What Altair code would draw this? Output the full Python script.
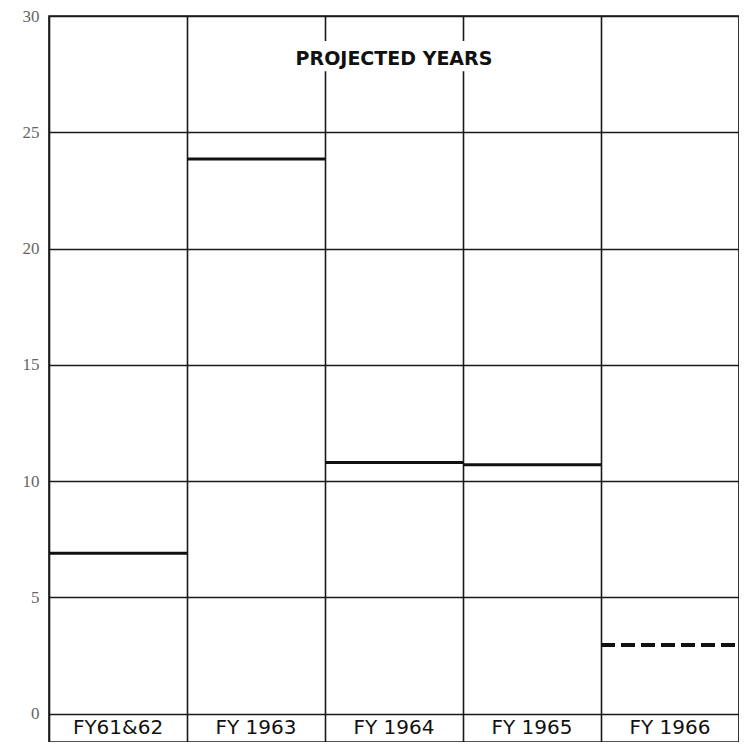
import altair as alt
import pandas as pd

# ---- data ----
categories = ["FY61&62", "FY 1963", "FY 1964", "FY 1965", "FY 1966"]
values = [6.9, 23.85, 10.8, 10.7, 2.95]
status = ["actual", "actual", "actual", "actual", "projected"]
y_ticks = [0, 5, 10, 15, 20, 25, 30]
x_dividers = [0, 1, 2, 3, 4, 5]

title_text = "PROJECTED YEARS"
title_x = 2.5
title_y = 28.17
gap_x = [1.77, 3.25]
gap_y = [27.62, 28.92]
label_y = -0.6
y_min = -1.22

df = pd.DataFrame({
    "idx": list(range(len(categories))),
    "label": categories,
    "value": values,
    "status": status,
})

x_scale = alt.Scale(domain=[0, 5], nice=False, zero=False)
y_scale = alt.Scale(domain=[y_min, 30], nice=False, zero=False)

x_axis = alt.Axis(values=x_dividers, grid=True, gridColor="#1a1a1a", gridWidth=1.6,
                  gridOpacity=1, labels=False, ticks=False, domain=False, title=None)
y_axis = alt.Axis(values=y_ticks, grid=True, gridColor="#1a1a1a", gridWidth=1.6,
                  gridOpacity=1, ticks=False, domain=False, title=None,
                  labelFont="Liberation Serif", labelFontSize=17, labelColor="#666666",
                  labelPadding=10)

base = alt.Chart(df).transform_calculate(
    x0="datum.idx", x1="datum.idx + 1", xc="datum.idx + 0.5"
)

solid = base.transform_filter(alt.datum.status == "actual").mark_rule(
    color="#111111", strokeWidth=3
).encode(
    x=alt.X("x0:Q", scale=x_scale, axis=x_axis),
    x2="x1:Q",
    y=alt.Y("value:Q", scale=y_scale, axis=y_axis),
)

dashed = base.transform_filter(alt.datum.status == "projected").mark_rule(
    color="#111111", strokeWidth=4, strokeDash=[14, 6]
).encode(
    x=alt.X("x0:Q", scale=x_scale),
    x2="x1:Q",
    y=alt.Y("value:Q", scale=y_scale),
)

labels = base.mark_text(
    font="DejaVu Sans", fontSize=20, color="#111111", baseline="middle", align="center"
).encode(
    x=alt.X("xc:Q", scale=x_scale),
    y=alt.datum(label_y),
    text="label:N",
)

gap = alt.Chart(pd.DataFrame({"a": [0]})).mark_rect(color="white").encode(
    x=alt.datum(gap_x[0]), x2=alt.datum(gap_x[1]),
    y=alt.datum(gap_y[0]), y2=alt.datum(gap_y[1]),
)

title = alt.Chart(pd.DataFrame({"t": [title_text]})).mark_text(
    font="DejaVu Sans", fontSize=19, fontWeight="bold", color="#111111",
    baseline="middle", align="center"
).encode(
    x=alt.datum(title_x), y=alt.datum(title_y), text="t:N"
)

chart = alt.layer(solid, dashed, labels, gap, title).properties(
    width=690, height=726,
    autosize=alt.AutoSizeParams(type="none"),
    padding={"left": 41, "top": 8, "right": 0, "bottom": 0},
    background="white",
).configure_view(stroke="#1a1a1a", strokeWidth=1.6)

chart.save("out.html", embed_options={"renderer": "svg", "actions": False})
